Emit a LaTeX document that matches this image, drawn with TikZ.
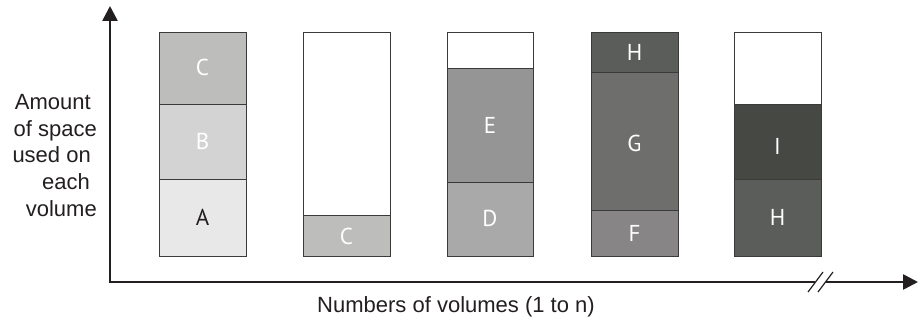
\documentclass[tikz,border=0pt]{standalone}
\usepackage{fontspec}
\setmainfont{Liberation Sans}
\newfontfamily\barfont{PT Sans}
\usetikzlibrary{arrows.meta}
\definecolor{cA}{HTML}{E8E8E8}
\definecolor{cB}{HTML}{D3D3D3}
\definecolor{cC}{HTML}{BDBDBB}
\definecolor{cD}{HTML}{AAA9A9}
\definecolor{cE}{HTML}{959595}
\definecolor{cF}{HTML}{878586}
\definecolor{cG}{HTML}{6E6E6C}
\definecolor{cH}{HTML}{5B5D5B}
\definecolor{cI}{HTML}{464844}
\definecolor{edge}{HTML}{3A3A3A}
\definecolor{ink}{HTML}{231F20}
\begin{document}
\begin{tikzpicture}[x=1pt,y=-1pt,
  segbox/.style={draw=edge, line width=0.9pt},
  lbl/.style={font=\barfont\fontsize{23}{27}\selectfont, anchor=base, inner sep=0pt, text=white},
  axtext/.style={font=\fontsize{22}{26}\selectfont, text=ink, inner sep=0pt},
  axis/.style={draw=ink, line width=2.6pt},
  tip/.style={-{Triangle[length=15pt,width=15pt]}}]
\useasboundingbox (0,0) rectangle (919,320);
% bar 1
\filldraw[segbox, fill=cC] (159,32) rectangle (246,104);
\filldraw[segbox, fill=cB] (159,104) rectangle (246,179);
\filldraw[segbox, fill=cA] (159,179) rectangle (246,256);
\node[lbl] (l1c) at (202.5,76) {C};
\node[lbl] (l1b) at (202.5,150) {B};
\node[lbl, text=ink] (l1a) at (202.5,226) {A};
% bar 2
\filldraw[segbox, fill=white] (303,32) rectangle (390,215);
\filldraw[segbox, fill=cC] (303,215) rectangle (390,256);
\node[lbl] (l2c) at (346.5,244.5) {C};
% bar 3
\filldraw[segbox, fill=white] (447,32) rectangle (533,68);
\filldraw[segbox, fill=cE] (447,68) rectangle (533,182);
\filldraw[segbox, fill=cD] (447,182) rectangle (533,256);
\node[lbl] (l3e) at (490,134) {E};
\node[lbl] (l3d) at (490,227) {D};
% bar 4
\filldraw[segbox, fill=cH] (591,32) rectangle (678,72);
\filldraw[segbox, fill=cG] (591,72) rectangle (678,210);
\filldraw[segbox, fill=cF] (591,210) rectangle (678,256);
\node[lbl] (l4h) at (634.5,61) {H};
\node[lbl] (l4g) at (634.5,152) {G};
\node[lbl] (l4f) at (634.5,242) {F};
% bar 5
\filldraw[segbox, fill=white] (734,32) rectangle (821,104);
\filldraw[segbox, fill=cI] (734,104) rectangle (821,179);
\filldraw[segbox, fill=cH] (734,179) rectangle (821,256);
\node[lbl] (l5i) at (777.5,155) {I};
\node[lbl] (l5h) at (777.5,226) {H};
% axes
\coordinate (o) at (110,282);
\coordinate (ytop) at (110,6);
\coordinate (b1) at (815,282);
\coordinate (b2) at (826,282);
\coordinate (xend) at (918,282);
\draw[axis, tip, line cap=butt] (o) -- (ytop);
\draw[axis] (108.7,282) -- (b1);
\draw[axis, tip] (b2) -- (xend);
\draw[draw=ink, line width=1.2pt] (808,292) -- (823,272);
\draw[draw=ink, line width=1.2pt] (818,292) -- (833,272);
% labels
\node[axtext, anchor=base east] (y1) at (91,110) {Amount};
\node[axtext, anchor=base east] (y2) at (97,137) {of space};
\node[axtext, anchor=base east] (y3) at (91,163) {used on};
\node[axtext, anchor=base east] (y4) at (90,190) {each};
\node[axtext, anchor=base east] (y5) at (97,217) {volume};
\node[axtext, anchor=base] (xl) at (456,313) {Numbers of volumes (1 to n)};
\end{tikzpicture}
\end{document}
